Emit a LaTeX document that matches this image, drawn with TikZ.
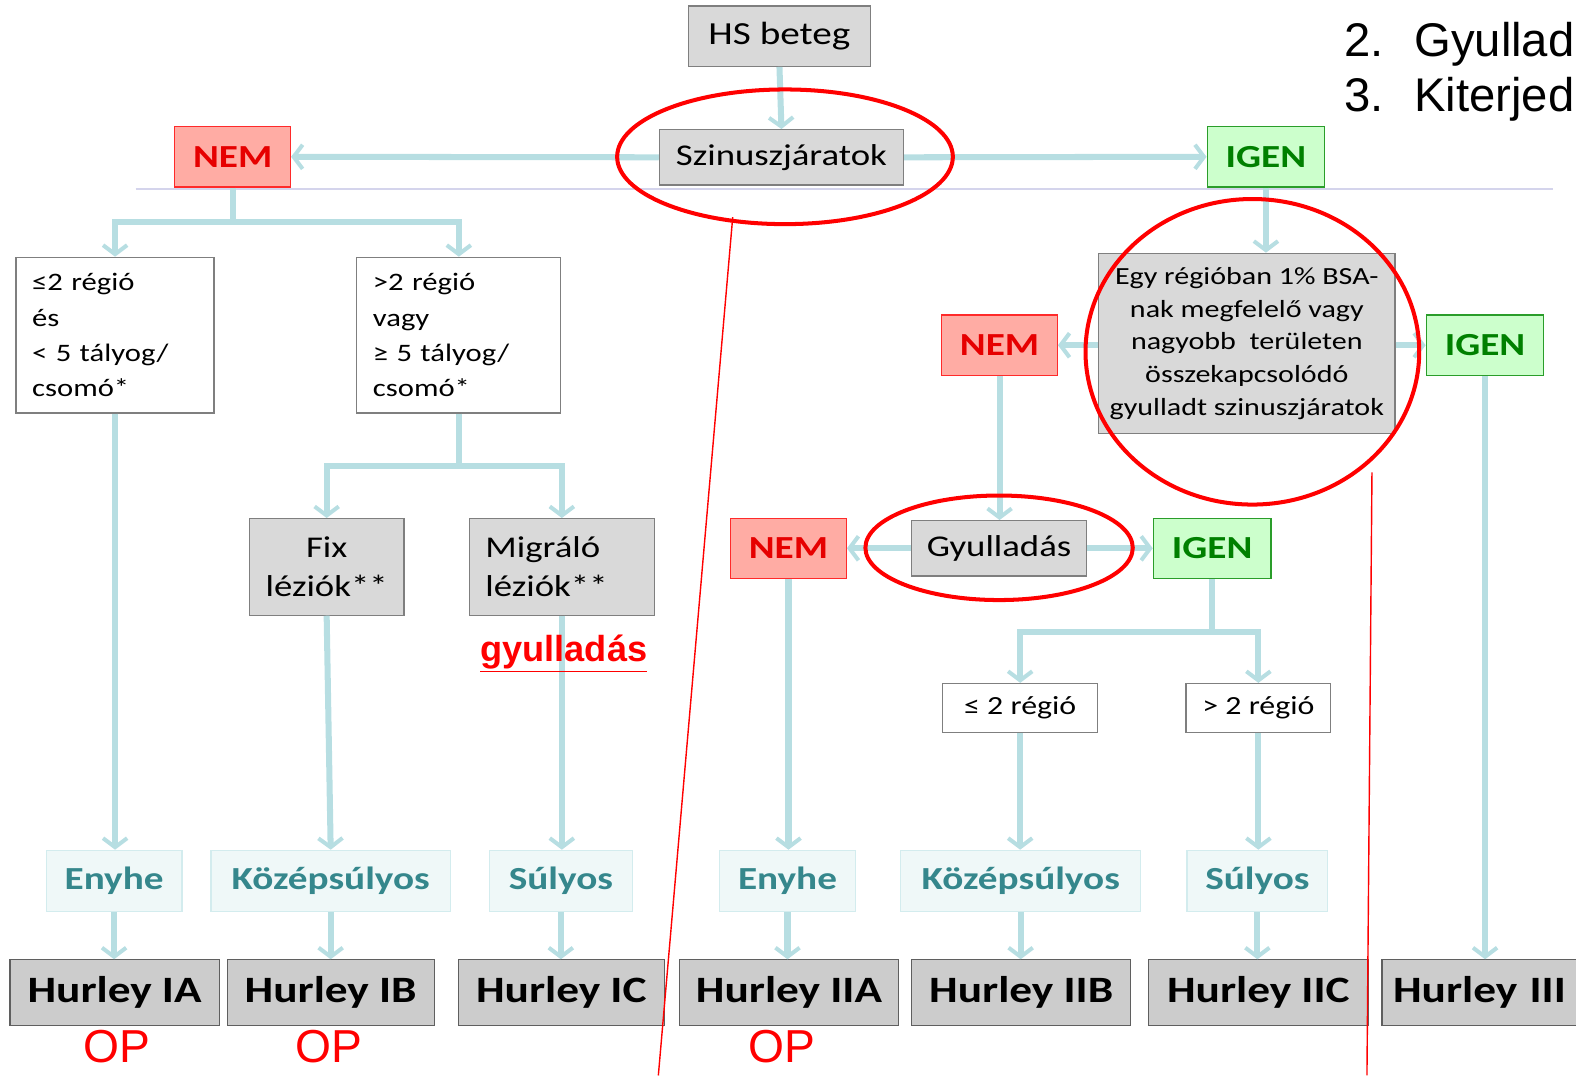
\documentclass[tikz,border=0pt]{standalone}
\usepackage{fontspec}
\setmainfont{Carlito}[FakeStretch=1.22]
\newfontfamily\arialf{Liberation Sans}
\usetikzlibrary{arrows.meta}
\definecolor{connc}{HTML}{B7DEE2}
\definecolor{nemfill}{HTML}{FFACA4}
\definecolor{nemdraw}{HTML}{FF2A2A}
\definecolor{nemtext}{HTML}{E60000}
\definecolor{igenfill}{HTML}{CCFFCC}
\definecolor{igendraw}{HTML}{2A9D2A}
\definecolor{igentext}{HTML}{008000}
\definecolor{grayfill}{HTML}{D9D9D9}
\definecolor{grayedge}{HTML}{7F7F7F}
\definecolor{hurfill}{HTML}{CCCCCC}
\definecolor{huredge}{HTML}{5F5F5F}
\definecolor{sevfill}{HTML}{EFF8F8}
\definecolor{sevedge}{HTML}{D3ECEE}
\definecolor{sevtext}{HTML}{35878C}
\definecolor{sepline}{HTML}{D4D4EC}
\definecolor{opred}{HTML}{FF0000}
\tikzset{
  bx/.style={draw, line width=1.2pt, inner sep=0pt, align=center},
  graybox/.style={bx, fill=grayfill, draw=grayedge},
  whitebox/.style={bx, fill=white, draw=grayedge},
  nembox/.style={bx, fill=nemfill, draw=nemdraw, text=nemtext, font=\fontsize{32}{36}\selectfont\bfseries, minimum width=115pt, minimum height=60pt},
  igenbox/.style={bx, fill=igenfill, draw=igendraw, text=igentext, font=\fontsize{32}{36}\selectfont\bfseries, minimum width=117pt, minimum height=60pt},
  sevbox/.style={bx, fill=sevfill, draw=sevedge, text=sevtext, font=\fontsize{32}{36}\selectfont\bfseries, minimum height=61pt},
  hurbox/.style={bx, fill=hurfill, draw=huredge, font=\fontsize{37}{40}\selectfont\bfseries, minimum height=65pt},
  conn/.style={draw=connc, line width=6pt, -{Straight Barb[length=9pt, width=24pt, line width=4pt]}},
  connline/.style={draw=connc, line width=6pt},
  redring/.style={draw=opred, line width=4pt},
  redline/.style={draw=opred, line width=1.4pt},
  optext/.style={text=opred, font=\arialf\fontsize{46}{50}\selectfont, anchor=base, inner sep=0pt},
  numtext/.style={anchor=base west, inner sep=0pt, font=\arialf\fontsize{47}{52}\selectfont},
}
\begin{document}
\begin{tikzpicture}[x=1pt, y=-1pt]
\useasboundingbox (0,0) rectangle (1568,1070);
\clip (0,0) rectangle (1568,1070);

% separator line
\draw[sepline, line width=2pt] (135,188) -- (1545,188);

% top nodes
\node[graybox, minimum width=181pt, minimum height=60pt, font=\fontsize{32}{36}\selectfont] (hs) at (775.5,36) {HS beteg};
\node[graybox, minimum width=243pt, minimum height=55pt, font=\fontsize{30}{36}\selectfont] (szin) at (777.5,156.5) {Szinuszjáratok};
\node[nembox] (nem1) at (231.5,156) {NEM};
\node[igenbox] (igen1) at (1259.5,156) {IGEN};

% left branch
\node[whitebox, minimum width=197pt, minimum height=155pt, text width=165pt, align=left, font=\fontsize{25}{35}\selectfont] (le2) at (114.5,333.5) {≤2 régió\\és\\< 5 tályog/\\csomó*};
\node[whitebox, minimum width=203pt, minimum height=155pt, text width=171pt, align=left, font=\fontsize{25}{35}\selectfont] (gt2) at (456.5,333.5) {>2 régió\\vagy\\≥ 5 tályog/\\csomó*};
\node[graybox, minimum width=154pt, minimum height=96pt, font=\fontsize{30}{39}\selectfont] (fix) at (325,564) {Fix\\léziók**};
\node[graybox, minimum width=184pt, minimum height=96pt, text width=152pt, align=left, font=\fontsize{30}{39}\selectfont] (mig) at (559,564) {Migráló\\léziók**};

\node[sevbox, minimum width=135pt] (eny1) at (113.5,876.5) {Enyhe};
\node[sevbox, minimum width=238pt] (koz1) at (329,876.5) {Középsúlyos};
\node[sevbox, minimum width=142pt] (sul1) at (558,876.5) {Súlyos};

\node[hurbox, minimum width=208pt] (hia) at (114,987.5) {Hurley IA};
\node[hurbox, minimum width=206pt] (hib) at (329,987.5) {Hurley IB};
\node[hurbox, minimum width=205pt] (hic) at (558.5,987.5) {Hurley IC};

% right branch
\node[graybox, minimum width=295pt, minimum height=179pt, font=\fontsize{24.5}{32.5}\selectfont] (egy) at (1240.5,341.5) {Egy régióban 1\% BSA-\\nak megfelelő vagy\\nagyobb\ \ területen\\összekapcsolódó\\gyulladt szinuszjáratok};
\node[nembox] (nem2) at (994.5,343.5) {NEM};
\node[igenbox, minimum width=117pt] (igen2) at (1477.5,343.5) {IGEN};
\node[graybox, minimum width=174pt, minimum height=55pt, font=\fontsize{30}{36}\selectfont] (gyu) at (994,545.5) {Gyulladás};
\node[nembox] (nem3) at (784.5,545.5) {NEM};
\node[igenbox] (igen3) at (1206,545.5) {IGEN};
\node[whitebox, minimum width=154pt, minimum height=49pt, font=\fontsize{26}{30}\selectfont] (r2a) at (1015,704.5) {≤ 2 régió};
\node[whitebox, minimum width=144pt, minimum height=49pt, font=\fontsize{26}{30}\selectfont] (r2b) at (1252,704.5) {> 2 régió};

\node[sevbox, minimum width=135pt] (eny2) at (783.5,876.5) {Enyhe};
\node[sevbox, minimum width=239pt] (koz2) at (1015.5,876.5) {Középsúlyos};
\node[sevbox, minimum width=140pt] (sul2) at (1251,876.5) {Súlyos};

\node[hurbox, minimum width=218pt] (hiia) at (785,987.5) {Hurley IIA};
\node[hurbox, minimum width=218pt] (hiib) at (1016,987.5) {Hurley IIB};
\node[hurbox, minimum width=218pt] (hiic) at (1252,987.5) {Hurley IIC};
\node[hurbox, minimum width=200pt, text width=190pt, align=left] (hiii) at (1475,987.5) {\hspace*{6pt}Hurley III};

% OP labels
\node[optext] (op1) at (116,1057) {OP};
\node[optext] (op2) at (327,1057) {OP};
\node[optext] (op3) at (778,1057) {OP};

% top-right numbered text
\node[numtext] (t2) at (1337,56) {\makebox[70pt][l]{2.}Gyullad};
\node[numtext] (t3) at (1337,111) {\makebox[70pt][l]{3.}Kiterjed};

% connectors top
\draw[conn] (hs.south) -- (szin.north);
\draw[conn] (szin.west) -- (nem1.east);
\draw[conn] (szin.east) -- (igen1.west);

% left branch connectors
\coordinate (j1) at (231.5,221);
\draw[connline] (nem1.south) -- (j1);
\draw[conn] (j1) -| (le2.north);
\draw[conn] (j1) -| (gt2.north);
\coordinate (j2) at (456.5,464);
\draw[connline] (gt2.south) -- (j2);
\draw[conn] (j2) -| (fix.north);
\draw[conn] (j2) -| (mig.north);
\draw[conn] (le2.south) -- (le2.south |- eny1.north);
\draw[conn] (fix.south) -- (koz1.north);
\draw[conn] (mig.south) -- (mig.south |- sul1.north);
\draw[conn] (eny1.south) -- (eny1.south |- hia.north);
\draw[conn] (koz1.south) -- (hib.north);
\draw[conn] (sul1.south) -- (sul1.south |- hic.north);

% right branch connectors
\draw[conn] (igen1.south) -- (igen1.south |- egy.north);
\draw[conn] (egy.west |- nem2.east) -- (nem2.east);
\draw[conn] (egy.east |- igen2.west) -- (igen2.west);
\draw[conn] (nem2.south) -- (nem2.south |- gyu.north);
\draw[conn] (gyu.west) -- (nem3.east);
\draw[conn] (gyu.east) -- (igen3.west);
\coordinate (j3) at (1206,629);
\draw[connline] (igen3.south) -- (j3);
\draw[conn] (j3) -| (r2a.north);
\draw[conn] (j3) -| (r2b.north);
\draw[conn] (nem3.south) -- (nem3.south |- eny2.north);
\draw[conn] (r2a.south) -- (r2a.south |- koz2.north);
\draw[conn] (r2b.south) -- (r2b.south |- sul2.north);
\draw[conn] (igen2.south) -- (igen2.south |- hiii.north);
\draw[conn] (eny2.south) -- (eny2.south |- hiia.north);
\draw[conn] (koz2.south) -- (koz2.south |- hiib.north);
\draw[conn] (sul2.south) -- (sul2.south |- hiic.north);

% red label drawn over the connector
\node[text=opred, font=\arialf\fontsize{36}{40}\selectfont\bfseries, inner sep=0pt] (gyl) at (561,650) {\underline{gyulladás}};

% red annotations
\draw[redring] (781,156) ellipse [x radius=167, y radius=67];
\draw[redring] (1246,350) ellipse [x radius=166, y radius=152];
\draw[redring] (994,545) ellipse [x radius=133, y radius=52];
\coordinate (ra) at (729,216);
\coordinate (rb) at (655,1070);
\coordinate (rc) at (1365,470);
\coordinate (rd) at (1360,1070);
\draw[redline] (ra) -- (rb);
\draw[redline] (rc) -- (rd);
\end{tikzpicture}
\end{document}
